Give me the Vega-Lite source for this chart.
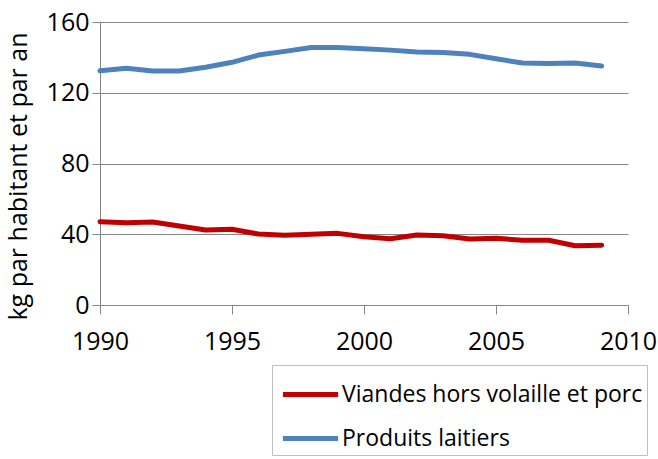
{
  "$schema": "https://vega.github.io/schema/vega-lite/v6.json",
  "autosize": "none",
  "width": 528,
  "height": 283,
  "padding": {"left": 100, "top": 22, "right": 30, "bottom": 154},
  "background": "white",
  "config": {
    "view": {"stroke": null},
    "font": "Open Sans"
  },
  "data": {
    "values": [
      {"annee": 1990, "serie": "Viandes hors volaille et porc", "kg": 47.1},
      {"annee": 1991, "serie": "Viandes hors volaille et porc", "kg": 46.5},
      {"annee": 1992, "serie": "Viandes hors volaille et porc", "kg": 46.9},
      {"annee": 1993, "serie": "Viandes hors volaille et porc", "kg": 44.7},
      {"annee": 1994, "serie": "Viandes hors volaille et porc", "kg": 42.4},
      {"annee": 1995, "serie": "Viandes hors volaille et porc", "kg": 42.8},
      {"annee": 1996, "serie": "Viandes hors volaille et porc", "kg": 40.1},
      {"annee": 1997, "serie": "Viandes hors volaille et porc", "kg": 39.4},
      {"annee": 1998, "serie": "Viandes hors volaille et porc", "kg": 40.0},
      {"annee": 1999, "serie": "Viandes hors volaille et porc", "kg": 40.5},
      {"annee": 2000, "serie": "Viandes hors volaille et porc", "kg": 38.6},
      {"annee": 2001, "serie": "Viandes hors volaille et porc", "kg": 37.5},
      {"annee": 2002, "serie": "Viandes hors volaille et porc", "kg": 39.6},
      {"annee": 2003, "serie": "Viandes hors volaille et porc", "kg": 39.2},
      {"annee": 2004, "serie": "Viandes hors volaille et porc", "kg": 37.3},
      {"annee": 2005, "serie": "Viandes hors volaille et porc", "kg": 37.7},
      {"annee": 2006, "serie": "Viandes hors volaille et porc", "kg": 36.6},
      {"annee": 2007, "serie": "Viandes hors volaille et porc", "kg": 36.6},
      {"annee": 2008, "serie": "Viandes hors volaille et porc", "kg": 33.5},
      {"annee": 2009, "serie": "Viandes hors volaille et porc", "kg": 33.8},
      {"annee": 1990, "serie": "Produits laitiers", "kg": 132.4},
      {"annee": 1991, "serie": "Produits laitiers", "kg": 133.8},
      {"annee": 1992, "serie": "Produits laitiers", "kg": 132.3},
      {"annee": 1993, "serie": "Produits laitiers", "kg": 132.3},
      {"annee": 1994, "serie": "Produits laitiers", "kg": 134.4},
      {"annee": 1995, "serie": "Produits laitiers", "kg": 137.2},
      {"annee": 1996, "serie": "Produits laitiers", "kg": 141.3},
      {"annee": 1997, "serie": "Produits laitiers", "kg": 143.4},
      {"annee": 1998, "serie": "Produits laitiers", "kg": 145.6},
      {"annee": 1999, "serie": "Produits laitiers", "kg": 145.6},
      {"annee": 2000, "serie": "Produits laitiers", "kg": 144.9},
      {"annee": 2001, "serie": "Produits laitiers", "kg": 144.1},
      {"annee": 2002, "serie": "Produits laitiers", "kg": 143.0},
      {"annee": 2003, "serie": "Produits laitiers", "kg": 142.8},
      {"annee": 2004, "serie": "Produits laitiers", "kg": 141.7},
      {"annee": 2005, "serie": "Produits laitiers", "kg": 139.2},
      {"annee": 2006, "serie": "Produits laitiers", "kg": 136.8},
      {"annee": 2007, "serie": "Produits laitiers", "kg": 136.6},
      {"annee": 2008, "serie": "Produits laitiers", "kg": 136.8},
      {"annee": 2009, "serie": "Produits laitiers", "kg": 135.1}
    ]
  },
  "mark": {"type": "line", "strokeWidth": 5, "strokeCap": "round", "strokeJoin": "round"},
  "encoding": {
    "x": {
      "field": "annee",
      "type": "quantitative",
      "scale": {"domain": [1990, 2010], "nice": false, "zero": false},
      "axis": {
        "title": null,
        "values": [1990, 1995, 2000, 2005, 2010],
        "format": "d",
        "grid": false,
        "labelFlush": false,
        "domainColor": "#868686",
        "tickColor": "#868686",
        "tickSize": 9,
        "labelFontSize": 25,
        "labelColor": "#000000",
        "labelPadding": 15,
        "labelFont": "Open Sans"
      }
    },
    "y": {
      "field": "kg",
      "type": "quantitative",
      "scale": {"domain": [0, 160], "nice": false},
      "axis": {
        "title": "kg par habitant et par an",
        "titleFontSize": 25,
        "titleFontWeight": "normal",
        "titleColor": "#000000",
        "titleFont": "Open Sans",
        "titlePadding": 15,
        "titleY": 154,
        "values": [0, 40, 80, 120, 160],
        "grid": true,
        "gridColor": "#868686",
        "gridWidth": 1,
        "labelFlush": false,
        "domainColor": "#868686",
        "tickColor": "#868686",
        "tickSize": 8,
        "labelFontSize": 25,
        "labelColor": "#000000",
        "labelPadding": 3,
        "labelFont": "Open Sans"
      }
    },
    "color": {
      "field": "serie",
      "type": "nominal",
      "scale": {
        "domain": ["Viandes hors volaille et porc", "Produits laitiers"],
        "range": ["#C00000", "#4F81BD"]
      },
      "legend": {
        "title": null,
        "orient": "none",
        "legendX": 172,
        "legendY": 343,
        "strokeColor": "#BFBFBF",
        "fillColor": "white",
        "padding": 4,
        "symbolType": "M-1.2,0L1.2,0",
        "symbolStrokeWidth": 5,
        "symbolSize": 2116,
        "symbolOffset": 9,
        "labelFontSize": 23,
        "labelFont": "Open Sans",
        "labelColor": "#000000",
        "labelOffset": 6,
        "rowPadding": 6,
        "labelLimit": 400
      }
    }
  }
}
